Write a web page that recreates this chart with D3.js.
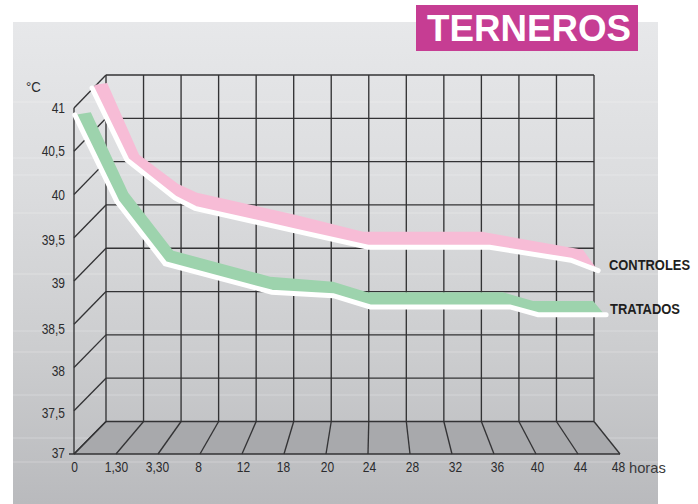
<!DOCTYPE html>
<html><head><meta charset="utf-8">
<script src="https://cdn.jsdelivr.net/npm/d3@7/dist/d3.min.js"></script>
<style>html,body{margin:0;padding:0;background:#fff}svg{display:block}
text{font-family:"Liberation Sans",Arial,sans-serif}</style>
</head><body><svg id="c" width="698" height="504"></svg>
<script>
const title = "TERNEROS";
const unitY = "°C";
const unitX = "horas";
const hourLabels = ["0","1,30","3,30","8","12","18","20","24","28","32","36","40","44","48"];
const tempTicks = [37,37.5,38,38.5,39,39.5,40,40.5,41];
const seriesNames = ["CONTROLES","TRATADOS"];

// Line positions: p = fractional place on the hour axis, t = temperature
const controlesP = [0.43,1.26,2.40,2.88,5.26,7.00,9.90,11.83,12.48];
const controlesT = [41.23,40.40,39.96,39.84,39.58,39.39,39.39,39.24,39.12];
const controlesBandP = [0.52,0.79,1.55,2.48,2.93,5.31,6.88,9.71,12.12,12.40];
const controlesBandT = [41.27,41.29,40.46,40.12,40.02,39.76,39.57,39.57,39.36,39.17];
const tratadosP = [0.02,1.02,2.17,4.71,6.17,7.05,10.38,11.05,12.67];
const tratadosT = [40.92,39.92,39.20,38.87,38.83,38.70,38.70,38.61,38.61];
const tratadosBandP = [0.14,0.40,1.29,2.36,4.67,6.17,6.98,10.21,10.93,12.36,12.60];
const tratadosBandT = [40.93,40.95,40.02,39.35,39.05,38.99,38.87,38.87,38.77,38.77,38.63];

const bgLines = [102,158,175,213,274,331,352,395,438,462];
// small hand-set offsets of the printed labels from their ticks
const yLabelNudge = [-1,2,3,5,2,2,0,0,0];
const xLabelNudge = [0,0,-1,-2,1,-1,1,1,2,3,3,1,2,-2];

const svg = d3.select("#c");
const defs = svg.append("defs");
const g1 = defs.append("linearGradient").attr("id","bg").attr("x1",0).attr("x2",0).attr("y1",0).attr("y2",1);
[[0,"#e7e8ea"],[0.35,"#dbdcde"],[0.7,"#cbccce"],[1,"#b9babd"]].forEach(s=>g1.append("stop").attr("offset",s[0]).attr("stop-color",s[1]));

const n = hourLabels.length-1;
const xF = d3.scaleLinear().domain([0,n]).range([74,620]);
const xB = d3.scaleLinear().domain([0,n]).range([106,594]);
const yF = d3.scaleLinear().domain([37,41]).range([454,108]);
const yB = d3.scaleLinear().domain([37,41]).range([421.5,75]);
const idx = d3.range(n+1);

svg.append("rect").attr("x",13).attr("y",22).attr("width",645).attr("height",482).attr("fill","url(#bg)");
svg.append("g").selectAll("line").data(bgLines).join("line")
  .attr("x1",13).attr("x2",658).attr("y1",d=>d).attr("y2",d=>d)
  .attr("stroke","#fff").attr("stroke-opacity",.28).attr("stroke-width",1);

// floor
svg.append("path").attr("fill","#a8a9ac")
  .attr("d",d3.line()([[xF(0),yF(37)],[xF(n),yF(37)],[xB(n),yB(37)],[xB(0),yB(37)]])+"Z");

const grid = svg.append("g").attr("stroke","#333335").attr("stroke-width",1.35).attr("fill","none");
grid.selectAll(".h").data(tempTicks).join("line").attr("class","h")
  .attr("x1",xB(0)).attr("x2",xB(n)).attr("y1",d=>yB(d)).attr("y2",d=>yB(d));
grid.selectAll(".v").data(idx).join("line").attr("class","v")
  .attr("x1",d=>xB(d)).attr("x2",d=>xB(d)).attr("y1",yB(41)).attr("y2",yB(37));
grid.selectAll(".f").data(idx).join("line").attr("class","f")
  .attr("x1",d=>xF(d)).attr("x2",d=>xB(d)).attr("y1",yF(37)).attr("y2",yB(37));
grid.selectAll(".s").data(tempTicks).join("line").attr("class","s")
  .attr("x1",xF(0)).attr("x2",xB(0)).attr("y1",d=>yF(d)).attr("y2",d=>yB(d));
grid.append("line").attr("x1",xF(0)).attr("x2",xF(0)).attr("y1",yF(41)).attr("y2",yF(37));
grid.append("line").attr("x1",xF(0)-5).attr("x2",xF(n)).attr("y1",yF(37)).attr("y2",yF(37));

const pt = (P,T)=>P.map((p,i)=>[xF(p),yF(T[i])]);
function ribbon(P,T,BP,BT,color){
  const w = pt(P,T), b = pt(BP,BT);
  svg.append("path").attr("fill",color).attr("d",d3.line()(b.concat(w.slice().reverse()))+"Z");
  svg.append("path").attr("fill","none").attr("stroke","#fff").attr("stroke-width",5)
    .attr("stroke-linecap","round").attr("stroke-linejoin","miter").attr("d",d3.line()(w));
}
ribbon(controlesP,controlesT,controlesBandP,controlesBandT,"#f7bcd6");
ribbon(tratadosP,tratadosT,tratadosBandP,tratadosBandT,"#9dd3ad");

// condensed look: squeeze each text to a share of its natural width
function squeeze(sel,k){ sel.each(function(){
  const w=this.getComputedTextLength();
  d3.select(this).attr("textLength",w*k).attr("lengthAdjust","spacingAndGlyphs");
});}

const axX = svg.append("g").attr("transform",`translate(0,${yF(37)})`)
  .call(d3.axisBottom(xF).tickValues(idx).tickFormat(i=>hourLabels[i]).tickSize(0).tickPadding(7));
const axY = svg.append("g").attr("transform",`translate(${xF(0)},0)`)
  .call(d3.axisLeft(yF).tickValues(tempTicks).tickFormat(d=>String(d).replace(".",",")).tickSize(0).tickPadding(9));
[axX,axY].forEach(a=>{a.select(".domain").remove();
  const t=a.selectAll("text").attr("font-size",15).attr("font-family",'"Liberation Sans",Arial,sans-serif').attr("fill","#2b2b2d");
  squeeze(t,.8);});
axY.selectAll("text").attr("dy","0.3em").attr("y",(d,i)=>yLabelNudge[i]);
axX.selectAll("text").attr("x",(d,i)=>xLabelNudge[i]);

squeeze(svg.append("text").attr("x",629).attr("y",473).attr("font-size",15).attr("fill","#3a3a3c").text(unitX),.98);
squeeze(svg.append("text").attr("x",26).attr("y",92).attr("font-size",15.5).attr("fill","#2b2b2d").text(unitY),.85);

svg.append("text").attr("x",609).attr("y",270).attr("font-size",14.5).attr("font-weight","bold").attr("fill","#1e1e20")
  .attr("textLength",81).attr("lengthAdjust","spacingAndGlyphs").text(seriesNames[0]);
svg.append("text").attr("x",610).attr("y",314).attr("font-size",14.5).attr("font-weight","bold").attr("fill","#1e1e20")
  .attr("textLength",70).attr("lengthAdjust","spacingAndGlyphs").text(seriesNames[1]);

svg.append("rect").attr("x",416).attr("y",5).attr("width",222).attr("height",46).attr("fill","#c63d93");
svg.append("text").attr("x",427).attr("y",40.5).attr("font-size",37.5).attr("font-weight","bold")
  .attr("fill","#fff").attr("textLength",204).attr("lengthAdjust","spacingAndGlyphs").text(title);
</script></body></html>
